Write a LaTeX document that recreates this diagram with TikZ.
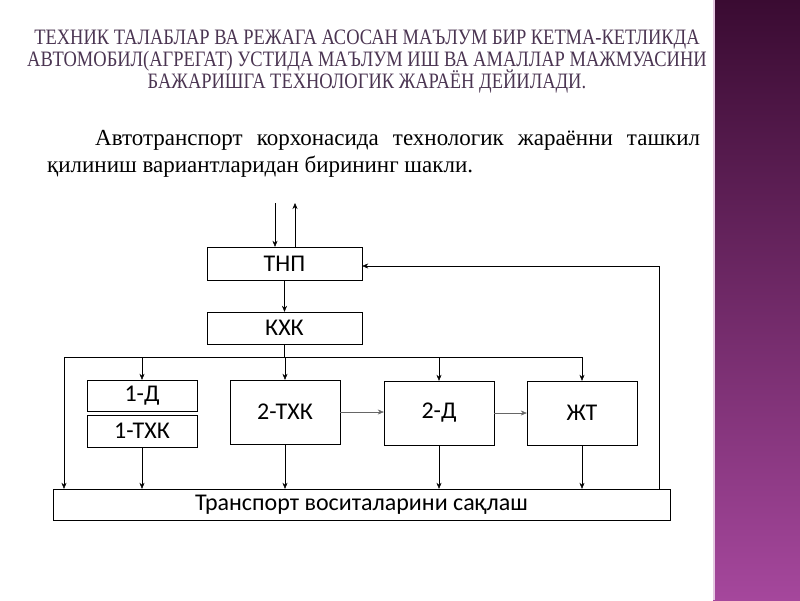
\documentclass[tikz,border=0pt]{standalone}
\usepackage{fontspec}
\setmainfont{Liberation Serif}
\newfontfamily\boxfont{Carlito}
\usetikzlibrary{calc,arrows.meta}
\definecolor{titlecol}{HTML}{4B3552}
\definecolor{bartop}{HTML}{3A0B32}
\definecolor{barbot}{HTML}{A5479C}
\tikzset{>={Stealth[length=6pt,width=5pt]},
  box/.style={draw,thin,font=\boxfont\fontsize{24}{24}\selectfont},
  arr/.style={thin,->}}
\begin{document}
\begin{tikzpicture}[x=1pt,y=-1pt]
        \useasboundingbox (0,0) rectangle (800,600);
        \shade[top color=bartop,bottom color=barbot] (713,0) rectangle (800,600);
        \draw[white!70!barbot,line width=1.5] (714,0) -- (714,600);
        % title
        \foreach \t/\y in {{ТЕХНИК ТАЛАБЛАР ВА РЕЖАГА АСОСАН МАЪЛУМ БИР КЕТМА-КЕТЛИКДА}/40,
                           {АВТОМОБИЛ(АГРЕГАТ) УСТИДА МАЪЛУМ ИШ ВА АМАЛЛАР МАЖМУАСИНИ}/61,
                           {БАЖАРИШГА ТЕХНОЛОГИК ЖАРАЁН ДЕЙИЛАДИ.}/82}
          \node[titlecol,xscale=0.84,font=\fontsize{22}{22}\selectfont] at (367,\y) {\t};
        \node[anchor=north west,text width=653,inner sep=0,align=justify,
              font=\fontsize{23}{27}\selectfont] (par) at (47,130)
          {\hspace*{48pt}Автотранспорт корхонасида технологик жараённи ташкил қилиниш вариантларидан бирининг шакли.};
        % boxes
        \node[box,minimum width=155,minimum height=33] (tnp) at (284.5,263.5) {ТНП};
        \node[box,minimum width=155,minimum height=32] (kxk) at (284.5,328) {КХК};
        \node[box,minimum width=110,minimum height=31] (d1) at (142,395.5) {1-Д};
        \node[box,minimum width=110,minimum height=32] (t1) at (142,431) {1-ТХК};
        \node[box,minimum width=110,minimum height=64] (t2) at (285,412) {2-ТХК};
        \node[box,minimum width=110,minimum height=64] (d2) at (439,413) {2-Д};
        \node[box,minimum width=110,minimum height=64] (jt) at (582,413) {ЖТ};
        \node[box,minimum width=617,minimum height=31] (store) at (361.5,504.5) {Транспорт воситаларини сақлаш};
        \coordinate (in) at (275,203);
        \coordinate (out) at (295,203);
        \coordinate (busL) at (64,357);
        \coordinate (busR) at (582,357);
        \coordinate (fb) at (659,266);
        % connectors
        \draw[arr] (in) -- (in |- tnp.north);
        \draw[arr] (out |- tnp.north) -- (out);
        \draw[arr] (tnp.south) -- (kxk.north);
        \draw[thin] (kxk.south) -- (kxk.south |- busL);
        \draw[thin] (busL) -- (busR);
        \draw[arr] (busL) -- (busL |- store.north);
        \draw[arr] (busL -| d1.north) -- (d1.north);
        \draw[arr] (busL -| t2.north) -- (t2.north);
        \draw[arr] (busL -| d2.north) -- (d2.north);
        \draw[arr] (busR) -- (jt.north);
        \draw[arr,black!60] (t2.east) -- (t2.east -| d2.west);
        \draw[arr,black!60] (d2.east) -- (d2.east -| jt.west);
        \draw[arr] (t1.south) -- (t1.south |- store.north);
        \draw[arr] (t2.south) -- (t2.south |- store.north);
        \draw[arr] (d2.south) -- (d2.south |- store.north);
        \draw[arr] (jt.south) -- (jt.south |- store.north);
        \draw[arr] (store.north -| fb) -- (fb) -- (fb -| tnp.east);
\end{tikzpicture}
\end{document}
